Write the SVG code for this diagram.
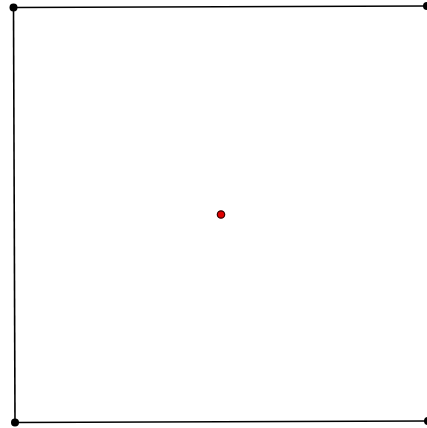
<svg xmlns="http://www.w3.org/2000/svg" width="427" height="428" viewBox="0 0 427 428">
<style>
.edge{stroke:#000;stroke-width:1.6;fill:none}
.v{fill:#000}
.c{fill:#e00000;stroke:#300;stroke-width:1.2}
</style>
<rect width="427" height="428" fill="#fff"/>
<g id="connectors">
<line class="edge" x1="13.5" y1="7.5" x2="426.5" y2="6"/>
<line class="edge" x1="13.5" y1="7.5" x2="15" y2="422.5"/>
<line class="edge" x1="15" y1="422.5" x2="427.5" y2="421"/>
</g>
<g id="v1"><circle class="v" cx="13.5" cy="7.5" r="4"/></g>
<g id="v2"><circle class="v" cx="427" cy="6" r="4"/></g>
<g id="v3"><circle class="v" cx="15" cy="422.5" r="4"/></g>
<g id="v4"><circle class="v" cx="428" cy="421" r="4"/></g>
<g id="center"><circle class="c" cx="221" cy="214.5" r="3.7"/></g>
</svg>
